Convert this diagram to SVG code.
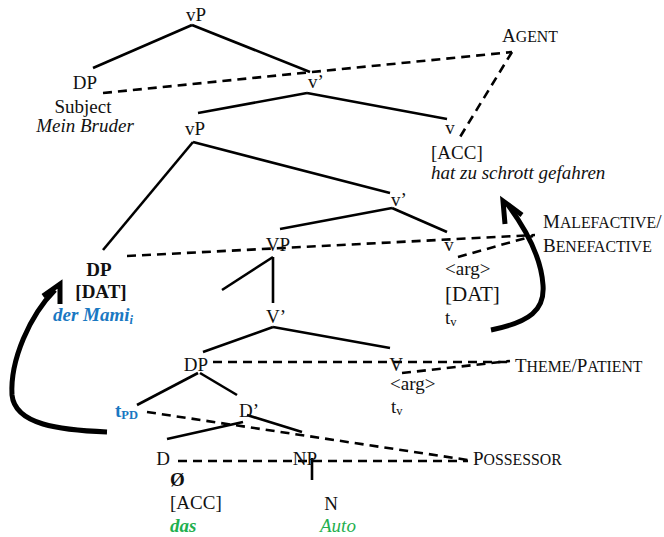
<svg xmlns="http://www.w3.org/2000/svg" width="664" height="537" viewBox="0 0 664 537">
  <style>
    text { font-family: 'Liberation Serif', 'DejaVu Serif', serif; font-size: 19px; fill: #111; }
    .it { font-style: italic; }
    .bd { font-weight: bold; }
    .sc { font-size: 15.8px; }
    .big { font-size: 21px; }
    .sub { font-size: 12.5px; }
    .blue { fill: #1a78c2; }
    .green { fill: #1fb04f; }
    .edge { stroke: #000; stroke-width: 2.6; fill: none; stroke-linecap: butt; }
    .dash { stroke: #000; stroke-width: 2.6; fill: none; stroke-dasharray: 9 6; }
    .move { stroke: #000; stroke-width: 5; fill: none; stroke-linecap: butt; stroke-linejoin: miter; }
  </style>

  <!-- tree branches, role links and movement arrows -->
  <g id="connectors">
    <line class="edge" x1="192" y1="25" x2="93" y2="68"/>
    <line class="edge" x1="192" y1="25" x2="310" y2="72"/>
    <line class="edge" x1="307" y1="93" x2="198" y2="113"/>
    <line class="edge" x1="307" y1="93" x2="447" y2="119"/>
    <line class="edge" x1="193" y1="142" x2="103" y2="250"/>
    <line class="edge" x1="193" y1="142" x2="390" y2="193"/>
    <line class="edge" x1="392" y1="208" x2="280" y2="229"/>
    <line class="edge" x1="392" y1="208" x2="447" y2="232"/>
    <line class="edge" x1="273" y1="257" x2="222" y2="290"/>
    <line class="edge" x1="273" y1="257" x2="273" y2="303"/>
    <line class="edge" x1="273" y1="327" x2="203" y2="352"/>
    <line class="edge" x1="273" y1="327" x2="390" y2="348"/>
    <line class="edge" x1="198" y1="373" x2="137" y2="405"/>
    <line class="edge" x1="200" y1="373" x2="237" y2="395"/>
    <line class="edge" x1="243" y1="422" x2="167" y2="439"/>
    <line class="edge" x1="247" y1="415" x2="302" y2="432"/>
    <line class="edge" x1="312" y1="458" x2="312" y2="480"/>

    <line class="dash" x1="103" y1="93" x2="512" y2="52"/>
    <line class="dash" x1="512" y1="52" x2="460" y2="137"/>
    <line class="dash" x1="127" y1="256" x2="535" y2="235"/>
    <line class="dash" x1="458" y1="257" x2="533" y2="236"/>
    <line class="dash" x1="213" y1="362" x2="510" y2="362"/>
    <line class="dash" x1="402" y1="373" x2="510" y2="361"/>
    <line class="dash" x1="147" y1="412" x2="468" y2="460"/>
    <line class="dash" x1="178" y1="461" x2="468" y2="461"/>

    <path class="move" d="M 491,330 C 530,322 545,310 543,285 C 541,255 525,228 508,205"/>
    <polyline class="move" points="522,215 503,201 505,224"/>
    <path class="move" d="M 107,432 C 60,430 15,425 12,395 C 10,360 30,315 55,290"/>
    <polyline class="move" points="43,296 60,284 60,304"/>
  </g>

  <g id="vP-top"><text x="196" y="21" text-anchor="middle">vP</text></g>
  <g id="DP-subject">
    <text x="85" y="89" text-anchor="middle">DP</text>
    <text x="83" y="113" text-anchor="middle">Subject</text>
    <text x="85" y="132" text-anchor="middle" class="it">Mein Bruder</text>
  </g>
  <g id="v-bar-top"><text x="316" y="88" text-anchor="middle">v’</text></g>
  <g id="agent"><text x="502" y="42">A<tspan class="sc">GENT</tspan></text></g>
  <g id="vP-mid"><text x="195" y="135" text-anchor="middle">vP</text></g>
  <g id="v-head">
    <text x="450" y="134" text-anchor="middle">v</text>
    <text x="431" y="159">[ACC]</text>
    <text x="431" y="179" class="it">hat zu schrott gefahren</text>
  </g>
  <g id="v-bar-mid"><text x="399" y="206" text-anchor="middle">v’</text></g>
  <g id="DP-dative">
    <text x="99" y="276" text-anchor="middle" class="bd">DP</text>
    <text x="101" y="298" text-anchor="middle" class="bd">[DAT]</text>
    <text x="53" y="321" class="bd it blue">der Mami<tspan class="sub" dy="3">i</tspan></text>
  </g>
  <g id="VP"><text x="278" y="251" text-anchor="middle">VP</text></g>
  <g id="v-appl">
    <text x="449" y="251" text-anchor="middle">v</text>
    <text x="445" y="275">&lt;arg&gt;</text>
    <text x="445" y="301" class="big">[DAT]</text>
    <text x="445" y="324">t<tspan class="sub" dy="2">v</tspan></text>
  </g>
  <g id="malefactive">
    <text x="543" y="228">M<tspan class="sc">ALEFACTIVE</tspan>/</text>
    <text x="543" y="252">B<tspan class="sc">ENEFACTIVE</tspan></text>
  </g>
  <g id="V-bar"><text x="276" y="323" text-anchor="middle">V’</text></g>
  <g id="DP-object"><text x="196" y="371" text-anchor="middle">DP</text></g>
  <g id="V-head">
    <text x="396" y="371" text-anchor="middle">V</text>
    <text x="390" y="390">&lt;arg&gt;</text>
    <text x="391" y="413">t<tspan class="sub" dy="2">v</tspan></text>
  </g>
  <g id="theme"><text x="515" y="372">T<tspan class="sc">HEME</tspan>/P<tspan class="sc">ATIENT</tspan></text></g>
  <g id="t-PD"><text x="115" y="417" class="bd blue">t<tspan class="sub" dy="2">PD</tspan></text></g>
  <g id="D-bar"><text x="249" y="417" text-anchor="middle">D’</text></g>
  <g id="D-head">
    <text x="163" y="465" text-anchor="middle">D</text>
    <text x="170" y="486" class="bd">Ø</text>
    <text x="170" y="509">[ACC]</text>
    <text x="170" y="532" class="bd it green">das</text>
  </g>
  <g id="NP">
    <text x="305" y="465" text-anchor="middle">NP</text>
    <text x="331" y="510" text-anchor="middle">N</text>
    <text x="320" y="532" class="it green">Auto</text>
  </g>
  <g id="possessor"><text x="473" y="465">P<tspan class="sc">OSSESSOR</tspan></text></g>
</svg>
